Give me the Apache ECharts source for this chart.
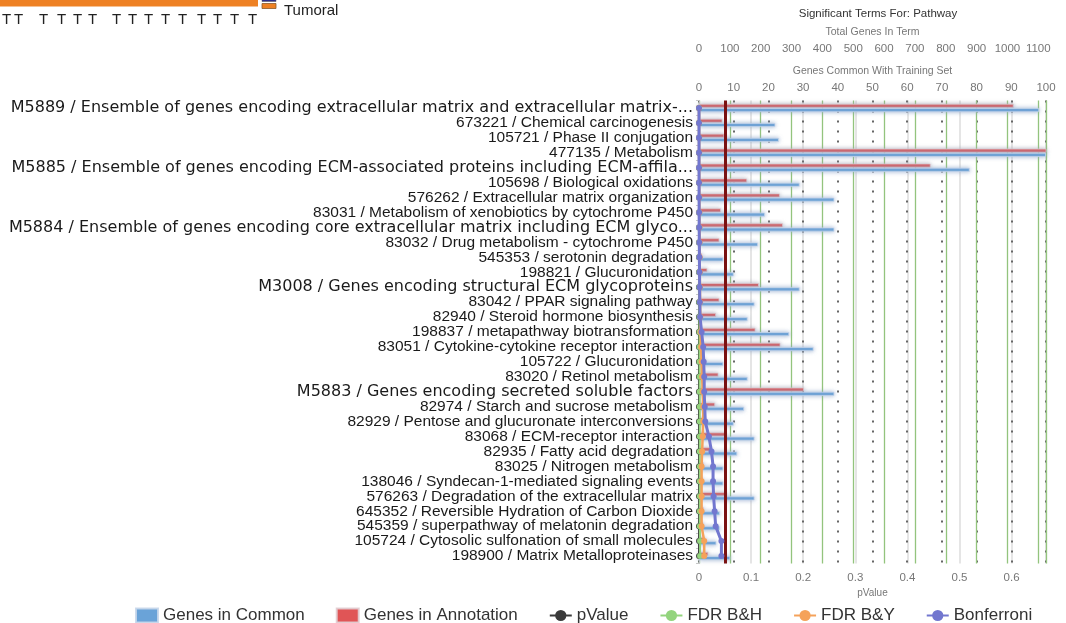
<!DOCTYPE html>
<html>
<head>
<meta charset="utf-8">
<script src="https://cdn.jsdelivr.net/npm/echarts@6/dist/echarts.min.js"></script>
<style>
html,body{margin:0;padding:0;background:#fff;}
#chart{width:1066px;height:623px;}
</style>
</head>
<body>
<div id="chart"></div>
<script>
const categories = [
  "M5889 / Ensemble of genes encoding extracellular matrix and extracellular matrix-...",
  "673221 / Chemical carcinogenesis",
  "105721 / Phase II conjugation",
  "477135 / Metabolism",
  "M5885 / Ensemble of genes encoding ECM-associated proteins including ECM-affila...",
  "105698 / Biological oxidations",
  "576262 / Extracellular matrix organization",
  "83031 / Metabolism of xenobiotics by cytochrome P450",
  "M5884 / Ensemble of genes encoding core extracellular matrix including ECM glyco...",
  "83032 / Drug metabolism - cytochrome P450",
  "545353 / serotonin degradation",
  "198821 / Glucuronidation",
  "M3008 / Genes encoding structural ECM glycoproteins",
  "83042 / PPAR signaling pathway",
  "82940 / Steroid hormone biosynthesis",
  "198837 / metapathway biotransformation",
  "83051 / Cytokine-cytokine receptor interaction",
  "105722 / Glucuronidation",
  "83020 / Retinol metabolism",
  "M5883 / Genes encoding secreted soluble factors",
  "82974 / Starch and sucrose metabolism",
  "82929 / Pentose and glucuronate interconversions",
  "83068 / ECM-receptor interaction",
  "82935 / Fatty acid degradation",
  "83025 / Nitrogen metabolism",
  "138046 / Syndecan-1-mediated signaling events",
  "576263 / Degradation of the extracellular matrix",
  "645352 / Reversible Hydration of Carbon Dioxide",
  "545359 / superpathway of melatonin degradation",
  "105724 / Cytosolic sulfonation of small molecules",
  "198900 / Matrix Metalloproteinases"
];
// Genes in Annotation (total genes in term)
const genesInAnnotation = [1020, 76, 82, 1300, 751, 156, 262, 71, 272, 66, 10, 27, 194, 66, 55, 183, 264, 20, 63, 340, 52, 18, 85, 41, 15, 12, 88, 15, 14, 20, 30];
// Genes in Common (with training set)
const genesInCommon = [98, 22, 23, 100, 78, 29, 39, 19, 39, 17, 7, 10, 29, 16, 14, 26, 33, 7, 14, 39, 13, 10, 16, 11, 7, 7, 16, 6, 6, 5, 9];
const pValue = [0.00000003, 0.00000005, 0.00000007, 0.0000001, 0.0000002, 0.0000003, 0.0000005, 0.0000008, 0.000001, 0.0000015, 0.000002, 0.000003, 0.000004, 0.000006, 0.000008, 0.00001, 0.000015, 0.00002, 0.000025, 0.00003, 0.000035, 0.00004, 0.00006, 0.00008, 0.00009, 0.00009, 0.0001, 0.0001, 0.00011, 0.00014, 0.00014];
const fdrBH = [0.00001, 0.00002, 0.00003, 0.00004, 0.00005, 0.00007, 0.0001, 0.00015, 0.0002, 0.0003, 0.0004, 0.0005, 0.0006, 0.0007, 0.0008, 0.0009, 0.001, 0.0011, 0.0012, 0.0013, 0.0014, 0.0015, 0.0015, 0.0015, 0.0015, 0.0015, 0.0015, 0.0015, 0.0015, 0.002, 0.002];
const fdrBY = [0.00005, 0.0001, 0.00015, 0.0002, 0.0003, 0.0004, 0.0005, 0.0007, 0.0009, 0.0011, 0.0013, 0.0015, 0.0018, 0.002, 0.0025, 0.003, 0.004, 0.005, 0.006, 0.007, 0.008, 0.008, 0.007, 0.006, 0.005, 0.005, 0.005, 0.005, 0.005, 0.01, 0.01];
const bonferroni = [0.00001, 0.00002, 0.00003, 0.00004, 0.00006, 0.0001, 0.0002, 0.0003, 0.0004, 0.0006, 0.0008, 0.001, 0.0012, 0.0015, 0.002, 0.005, 0.008, 0.009, 0.010, 0.010, 0.011, 0.012, 0.019, 0.024, 0.027, 0.027, 0.028, 0.030, 0.032, 0.043, 0.043];
const pValueTicks = [0, 0.1, 0.2, 0.3, 0.4, 0.5, 0.6];
const significanceThreshold = 0.05;
// fragment of a neighbouring chart, cut off at the top-left
const fragmentLabels = ["T","T","T","T","T","T","T","T","T","T","T","T","T","T","T"];
const fragmentLegend = ["Peritumoral", "Tumoral"];

const FONT = "'Liberation Sans', Arial, Helvetica, sans-serif";
const WIDE_FONT = "'DejaVu Sans', 'Liberation Sans', sans-serif";
const fragX = [2, 14, 39, 57, 73, 88, 112, 128, 144, 161, 178, 197, 213, 230, 248];

const chart = echarts.init(document.getElementById('chart'), null, {renderer: 'canvas'});

const lineCommon = (name, data, color, width, z) => ({
  name, type: 'line', data, xAxisIndex: 0, yAxisIndex: 0,
  symbol: 'circle', symbolSize: 6, z,
  lineStyle: {color, width}, itemStyle: {color},
  emphasis: {disabled: true}, animation: false
});

const graphics = [
  {type: 'rect', shape: {x: 0, y: 0, width: 258, height: 6.5}, style: {fill: '#ee8124'}},
  {type: 'rect', shape: {x: 262, y: -4, width: 14, height: 5.5}, style: {fill: '#2b2d8c', stroke: '#555', lineWidth: 0.5}},
  {type: 'text', x: 284, y: -6, style: {text: fragmentLegend[0], font: '15px ' + FONT, fill: '#222', textVerticalAlign: 'middle'}},
  {type: 'rect', shape: {x: 262, y: 3.5, width: 14, height: 5}, style: {fill: '#ee8124', stroke: '#8a5a2a', lineWidth: 0.8}},
  {type: 'text', x: 284, y: 11, style: {text: fragmentLegend[1], font: '15px ' + FONT, fill: '#222', textVerticalAlign: 'middle'}}
];
fragmentLabels.forEach((t, i) => {
  graphics.push({type: 'text', x: fragX[i], y: 20, style: {text: t, font: '15px ' + FONT, fill: '#222', textVerticalAlign: 'middle'}});
});

const option = {
  animation: false,
  backgroundColor: '#fff',
  textStyle: {fontFamily: FONT},
  title: {
    text: 'Significant Terms For: Pathway',
    left: 873, top: 3, textAlign: 'center',
    textStyle: {fontSize: 11.5, fontWeight: 'normal', color: '#333', fontFamily: FONT}
  },
  legend: {
    left: 130, top: 602,
    itemWidth: 22, itemHeight: 14, itemGap: 31,
    textStyle: {fontSize: 17, color: '#333', fontFamily: FONT},
    data: [
      {name: 'Genes in Common', icon: 'rect'},
      {name: 'Genes in Annotation', icon: 'rect'},
      'pValue', 'FDR B&H', 'FDR B&Y', 'Bonferroni'
    ]
  },
  grid: {left: 699, right: 20, top: 100.5, bottom: 59.5, containLabel: false, outerBoundsMode: 'none'},
  xAxis: [
    {
      type: 'value', position: 'bottom', min: 0, max: 0.666, interval: 0.1,
      name: 'pValue', nameLocation: 'middle', nameGap: 22,
      nameTextStyle: {fontSize: 10, color: '#777'},
      axisLine: {show: false}, axisTick: {show: false},
      axisLabel: {fontSize: 11.5, color: '#777', margin: 8, showMaxLabel: false,
        formatter: v => pValueTicks.indexOf(Math.round(v*10)/10) >= 0 ? String(Math.round(v*10)/10) : ''},
      splitLine: {show: true, lineStyle: {color: '#dcdcdc', width: 1.5}}
    },
    {
      type: 'value', position: 'top', min: 0, max: 100, interval: 10,
      name: 'Genes Common With Training Set', nameLocation: 'middle', nameGap: 23.5,
      nameTextStyle: {fontSize: 10.5, color: '#777'},
      axisLine: {show: false}, axisTick: {show: false},
      axisLabel: {fontSize: 11.5, color: '#777', margin: 7},
      splitLine: {show: true, lineStyle: {color: '#666', width: 2, type: [2, 8]}}
    },
    {
      type: 'value', position: 'top', offset: 39, min: 0, max: 1125, interval: 100,
      name: 'Total Genes In Term', nameLocation: 'middle', nameGap: 22.5,
      nameTextStyle: {fontSize: 10.5, color: '#777'},
      axisLine: {show: false}, axisTick: {show: false},
      axisLabel: {fontSize: 11.5, color: '#777', margin: 7, showMaxLabel: false,
        formatter: v => String(v)},
      splitLine: {show: true, lineStyle: {color: '#93c47d', width: 1.3}}
    }
  ],
  yAxis: [{
    type: 'category', data: categories, inverse: true,
    axisLine: {show: true, lineStyle: {color: '#c8c8c8'}},
    axisTick: {show: true, length: 3, lineStyle: {color: '#c8c8c8'}},
    axisLabel: {
      fontSize: 15.5, color: '#1a1a1a', margin: 6, interval: 0, fontFamily: FONT,
      formatter: v => v.charAt(0) === 'M' ? '{m|' + v + '}' : v,
      rich: {m: {fontSize: 16, color: '#1a1a1a', fontFamily: WIDE_FONT}}
    },
    splitLine: {show: false}
  }],
  graphic: graphics,
  series: [
    {
      name: 'Genes in Annotation', type: 'bar', data: genesInAnnotation,
      xAxisIndex: 2, yAxisIndex: 0, barWidth: 4, barGap: '5%', z: 3, clip: true,
      itemStyle: {color: '#e05556', borderColor: 'rgba(225,205,210,0.9)', borderWidth: 0.8,
        shadowBlur: 4, shadowColor: 'rgba(160,160,180,0.8)'}
    },
    {
      name: 'Genes in Common', type: 'bar', data: genesInCommon,
      xAxisIndex: 1, yAxisIndex: 0, barWidth: 4, barGap: '5%', z: 3, clip: true,
      itemStyle: {color: '#6aa3d8', borderColor: 'rgba(200,215,235,0.9)', borderWidth: 0.8,
        shadowBlur: 4, shadowColor: 'rgba(140,165,200,0.8)'}
    },
    lineCommon('pValue', pValue, '#3a3a3a', 2, 5),
    lineCommon('FDR B&H', fdrBH, '#93d47d', 2, 5),
    lineCommon('FDR B&Y', fdrBY, '#f5a25a', 2.5, 6),
    Object.assign(lineCommon('Bonferroni', bonferroni, '#7277cf', 3, 7), {
      markLine: {
        silent: true, symbol: 'none', animation: false,
        label: {show: false},
        lineStyle: {color: '#7a1212', width: 3, type: 'solid'},
        emphasis: {disabled: true},
        data: [{xAxis: significanceThreshold}]
      }
    })
  ]
};
chart.setOption(option);
</script>
</body>
</html>
